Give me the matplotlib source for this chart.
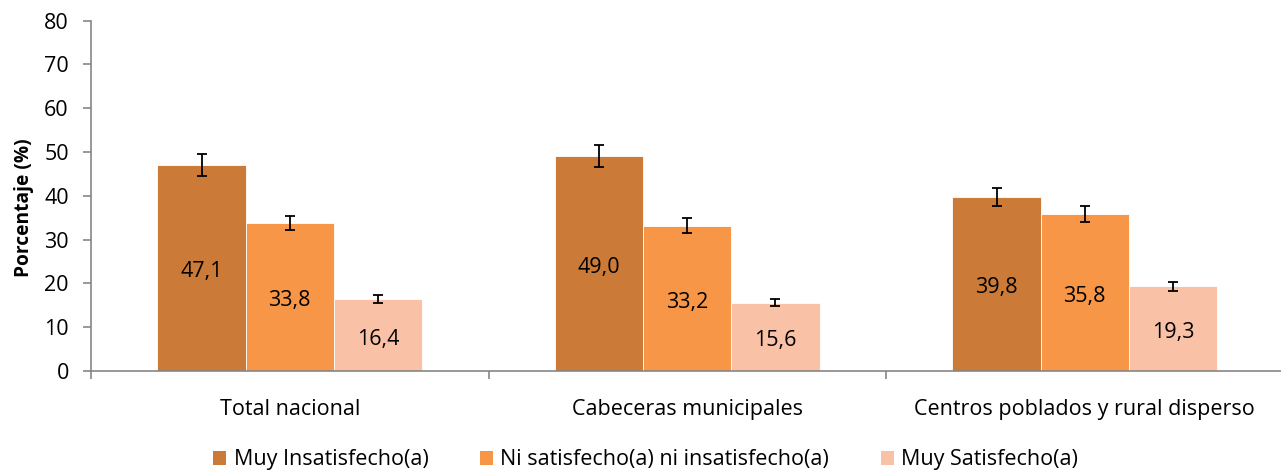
import matplotlib
matplotlib.use("Agg")
import matplotlib.pyplot as plt
import numpy as np
from matplotlib.patches import Patch

plt.rcParams['font.family'] = ['Open Sans', 'DejaVu Sans']

categories = ["Total nacional", "Cabeceras municipales", "Centros poblados y rural disperso"]
series = ["Muy Insatisfecho(a)", "Ni satisfecho(a) ni insatisfecho(a)", "Muy Satisfecho(a)"]
muy_insatisfecho = [47.1, 49.0, 39.8]
ni_ni = [33.8, 33.2, 35.8]
muy_satisfecho = [16.4, 15.6, 19.3]
err_insatisfecho = [2.5, 2.5, 2.1]
err_ni_ni = [1.7, 1.7, 1.85]
err_satisfecho = [0.95, 0.8, 1.0]

colors = ["#CB7A38", "#F79646", "#F9C2A6"]
values = [muy_insatisfecho, ni_ni, muy_satisfecho]
errors = [err_insatisfecho, err_ni_ni, err_satisfecho]

fs = 15.5

fig = plt.figure(figsize=(12.81, 4.70), dpi=100)
ax = fig.add_axes([91 / 1281, 1 - 371 / 470, 1192.5 / 1281, 350.3 / 470])

x = np.arange(len(categories))
w = 0.222
for i, (vals, errs, c) in enumerate(zip(values, errors, colors)):
    pos = x + (i - 1) * w
    ax.bar(pos, vals, w, color=c, edgecolor="white", linewidth=0.6, zorder=2)
    ax.errorbar(pos, vals, yerr=errs, fmt="none", ecolor="black",
                elinewidth=1.3, capsize=3.6, capthick=1.3, zorder=3)
    for p, v in zip(pos, vals):
        ax.text(p, v / 2 - 0.9, f"{v:.1f}".replace(".", ","), ha="center", va="center",
                fontsize=fs, color="black", zorder=4)

ax.set_xlim(-0.5, 2.5)
ax.set_ylim(0, 80)
ax.set_yticks(range(0, 81, 10))
ax.set_ylabel("Porcentaje (%)", fontsize=13.8, fontweight="bold", va="center")
ax.yaxis.set_label_coords(-0.056, 0.465)

ax.set_xticks([-0.5, 0.5, 1.5, 2.5])
ax.set_xticklabels([])
ax.set_xticks(x, minor=True)
ax.set_xticklabels(categories, minor=True)
ax.tick_params(axis="x", which="minor", length=0, pad=20, labelsize=fs)
ax.tick_params(axis="x", which="major", length=6, direction="out", color="#868686", width=1.2)
ax.tick_params(axis="y", length=6, color="#868686", width=1.2, labelsize=fs, pad=10)

for s in ["top", "right"]:
    ax.spines[s].set_visible(False)
for s in ["left", "bottom"]:
    ax.spines[s].set_color("#868686")
    ax.spines[s].set_linewidth(1.2)

handles = [Patch(facecolor=c, edgecolor="none") for c in colors]
fig.legend(handles, series, loc="lower center", bbox_to_anchor=(0.504, -0.042), ncol=3,
           frameon=False, fontsize=fs, handlelength=0.6, handleheight=0.6,
           handletextpad=0.35, columnspacing=2.4)

fig.savefig("out.png", dpi=100)
